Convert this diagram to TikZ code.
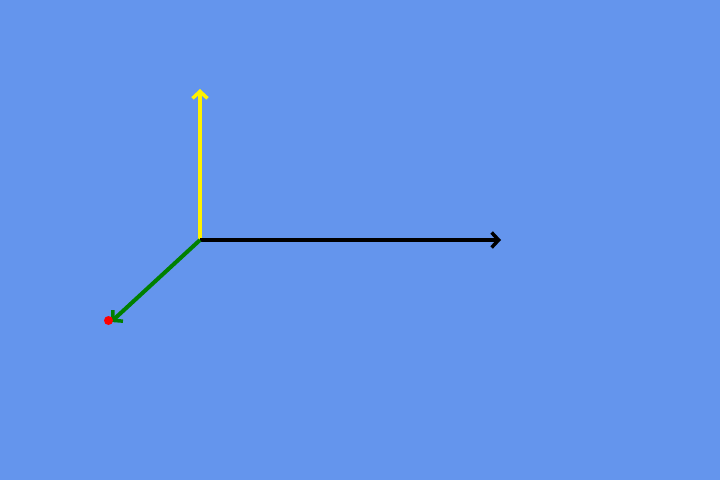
\documentclass[tikz,border=0pt]{standalone}
\usetikzlibrary{arrows.meta}
\definecolor{bg}{HTML}{6495ED}
\definecolor{axgreen}{HTML}{008000}
\begin{document}
\begin{tikzpicture}[x=1pt,y=-1pt,
  axis/.style={line width=4pt,-{Straight Barb[length=7pt,width=15pt,line width=3.5pt]}}]
\fill[bg] (0,0) rectangle (720,480);
\useasboundingbox (0,0) rectangle (720,480);
\coordinate (o) at (200,240);
\coordinate (ytip) at (200,89);
\coordinate (xtip) at (501,240);
\coordinate (ztip) at (111,322);
\draw[axis,yellow] (o) -- (ytip);
\draw[axis,black] (o) -- (xtip);
\draw[axis,axgreen] (o) -- (ztip);
\node[circle,fill=red,inner sep=0pt,minimum size=9pt] (dot) at (108.5,320.5) {};
\end{tikzpicture}
\end{document}
